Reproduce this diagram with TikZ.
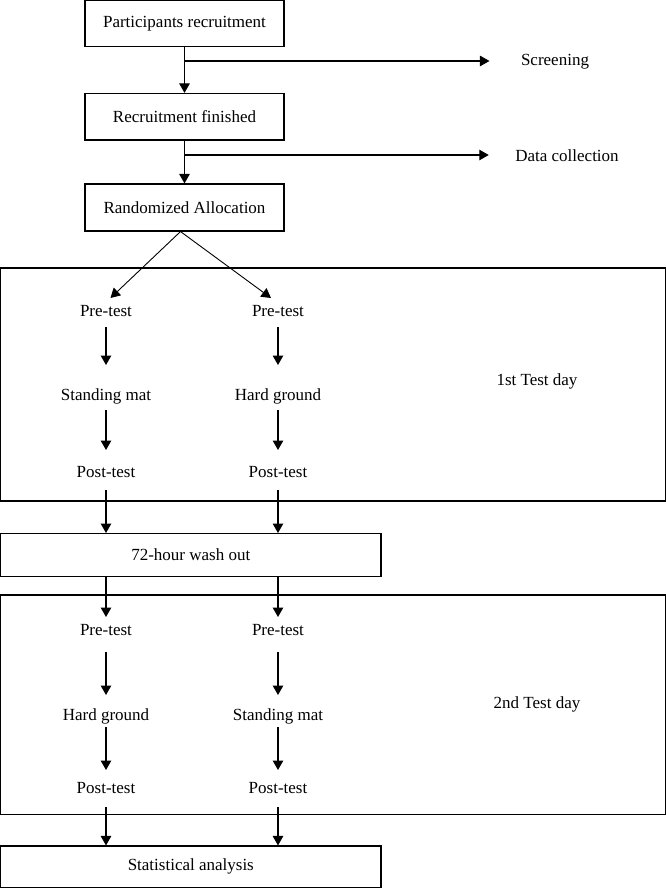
\documentclass[tikz,border=0pt]{standalone}
\usepackage{fontspec}
\setmainfont{Liberation Serif}
\usetikzlibrary{arrows.meta}
\begin{document}
\begin{tikzpicture}[x=1pt,y=-1pt,
  font=\fontsize{17}{20}\selectfont,
  line width=1.1pt,
  arr/.style={-{Triangle[length=9.5pt,width=10.5pt]}},
  box/.style={draw, rectangle, inner sep=0pt},
  lbl/.style={inner sep=0pt}]
\useasboundingbox (0,0) rectangle (666,888);
% top boxes
\node[box, minimum width=199pt, minimum height=46pt] (b1) at (184.5,23.5) {Participants recruitment};
\node[box, minimum width=199pt, minimum height=46.5pt] (b2) at (184.5,116.7) {Recruitment finished};
\node[box, minimum width=199pt, minimum height=47pt] (b3) at (184.5,207.5) {Randomized Allocation};
\node[lbl] (scr) at (555,62) {Screening};
\node[lbl] (dc) at (567,156) {Data collection};
% day 1
\node[box, minimum width=664.8pt, minimum height=233pt] (day1) at (333,384.5) {};
\node[lbl] (d1lbl) at (537,381) {1st Test day};
\node[lbl] (pre1) at (106,311) {Pre-test};
\node[lbl] (pre2) at (278,311) {Pre-test};
\node[lbl] (mid1) at (106,396) {Standing mat};
\node[lbl] (mid2) at (278,396) {Hard ground};
\node[lbl] (post1) at (106,472) {Post-test};
\node[lbl] (post2) at (278,472) {Post-test};
% wash out
\node[box, minimum width=380.4pt, minimum height=42.5pt] (wash) at (190.8,554.8) {72-hour wash out};
% day 2
\node[box, minimum width=664.8pt, minimum height=219.5pt] (day2) at (333,704.7) {};
\node[lbl] (d2lbl) at (537,704) {2nd Test day};
\node[lbl] (pre3) at (106,630) {Pre-test};
\node[lbl] (pre4) at (278,630) {Pre-test};
\node[lbl] (mid3) at (106,716) {Hard ground};
\node[lbl] (mid4) at (278,716) {Standing mat};
\node[lbl] (post3) at (106,788) {Post-test};
\node[lbl] (post4) at (278,788) {Post-test};
% final
\node[box, minimum width=380.4pt, minimum height=41.4pt] (stat) at (190.8,866.7) {Statistical analysis};
% connectors top
\draw[arr] (b1) -- (b2);
\draw[arr] (b2) -- (b3);
\draw[arr] (b1.south |- 0,61) -- ([xshift=-31pt,yshift=1pt]scr.west);
\draw[arr] (b2.south |- 0,155) -- ([xshift=-26pt,yshift=1pt]dc.west);
\draw[arr, line width=0.9pt] ([xshift=-4pt]b3.south) -- ([xshift=4.5pt,yshift=13pt]pre1.center);
\draw[arr, line width=0.9pt] ([xshift=-4pt]b3.south) -- ([xshift=-7pt,yshift=13pt]pre2.center);
% columns day 1
\foreach \p/\m/\q in {pre1/mid1/post1, pre2/mid2/post2}{
  \draw[arr] ([yshift=-16pt]\p.center) -- ([yshift=31pt]\m.center);
  \draw[arr] ([yshift=-14pt]\m.center) -- ([yshift=22pt]\q.center);
  \draw[arr] ([yshift=-18pt]\q.center) -- (\q |- wash.north);
}
% columns day 2
\foreach \p/\m/\q in {pre3/mid3/post3, pre4/mid4/post4}{
  \draw[arr] (\p |- wash.south) -- ([yshift=13pt]\p.center);
  \draw[arr] ([yshift=-22pt]\p.center) -- ([yshift=21pt]\m.center);
  \draw[arr] ([yshift=-11pt]\m.center) -- ([yshift=18pt]\q.center);
  \draw[arr] ([yshift=-19pt]\q.center) -- (\q |- stat.north);
}
\end{tikzpicture}
\end{document}
